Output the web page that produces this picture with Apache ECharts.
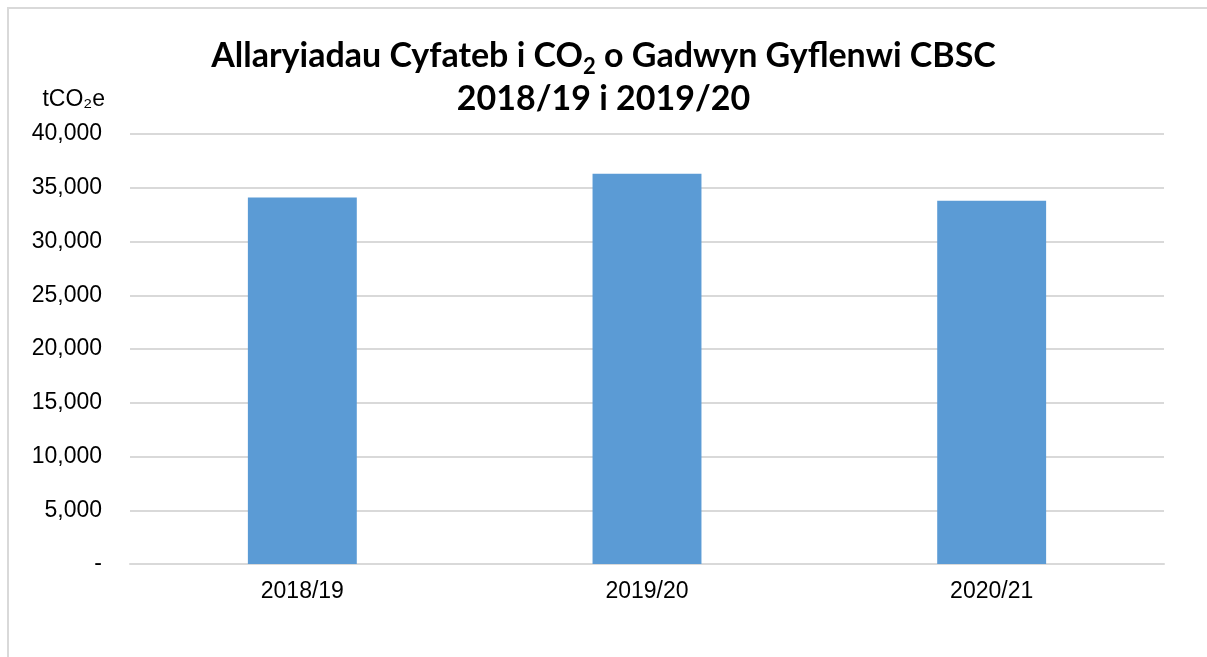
<!DOCTYPE html>
<html>
  <head>
    <meta charset="utf-8" />
    <title>Allaryiadau CO2</title>
    <script src="https://cdnjs.cloudflare.com/ajax/libs/echarts/6.0.0/echarts.min.js"></script>
    <style>
      html, body { margin: 0; padding: 0; background: #fff; }
    </style>
  </head>
  <body>
    <div id="main" style="width: 1207px;height: 657px;"></div>
    <script type="text/javascript">
      var years = ['2018/19', '2019/20', '2020/21']
      var emissions = [34100, 36300, 33800]
      var yTicks = [0, 5000, 10000, 15000, 20000, 25000, 30000, 35000, 40000]

      var myChart = echarts.init(document.getElementById('main'));

      function fmtTick(v) {
        if (v === 0) {
          return '-'
        }
        return v.toLocaleString('en-GB')
      }

      var option = {
        animation: false,
        backgroundColor: '#fff',
        title: {
          left: 'center',
          top: 30,
          text: '{a|Allaryiadau Cyfateb i CO}{s|2}{a| o Gadwyn Gyflenwi CBSC}\n{a|2018/19 i 2019/20}',
          textStyle: {
            rich: {
              a: {
                fontFamily: 'Lato',
                fontWeight: 'bold',
                fontSize: 34,
                lineHeight: 43,
                color: '#000'
              },
              s: {
                fontFamily: 'Lato',
                fontWeight: 'bold',
                fontSize: 22,
                lineHeight: 43,
                verticalAlign: 'bottom',
                padding: [14, 0, 0, 0],
                color: '#000'
              }
            }
          }
        },
        graphic: [
          {
            type: 'rect',
            shape: { x: 8, y: 8, width: 1220, height: 670 },
            style: { fill: 'none', stroke: '#d9d9d9', lineWidth: 2 }
          }
        ],
        grid: {
          left: 130,
          right: 43,
          top: 134,
          bottom: 93,
          containLabel: false
        },
        xAxis: {
          type: 'category',
          data: years,
          axisLine: { lineStyle: { color: '#d9d9d9', width: 2 } },
          axisTick: { show: false },
          axisLabel: {
            color: '#000',
            fontFamily: 'Liberation Sans',
            fontSize: 23,
            margin: 16
          }
        },
        yAxis: {
          type: 'value',
          min: yTicks[0],
          max: yTicks[yTicks.length - 1],
          interval: yTicks[1] - yTicks[0],
          name: 'tCO₂e',
          nameLocation: 'end',
          nameGap: 23,
          nameTextStyle: {
            color: '#000',
            fontFamily: 'Liberation Sans',
            fontSize: 23,
            align: 'right',
            padding: [0, 25, 0, 0]
          },
          axisLine: { show: false },
          axisTick: { show: false },
          splitLine: { lineStyle: { color: '#d9d9d9', width: 2 } },
          axisLabel: {
            color: '#000',
            fontFamily: 'Liberation Sans',
            fontSize: 23,
            margin: 28,
            formatter: fmtTick
          }
        },
        series: [
          {
            type: 'bar',
            data: emissions,
            barWidth: '31.6%',
            itemStyle: { color: '#5b9bd5' }
          }
        ]
      };
      myChart.setOption(option);
    </script>
  </body>
</html>
